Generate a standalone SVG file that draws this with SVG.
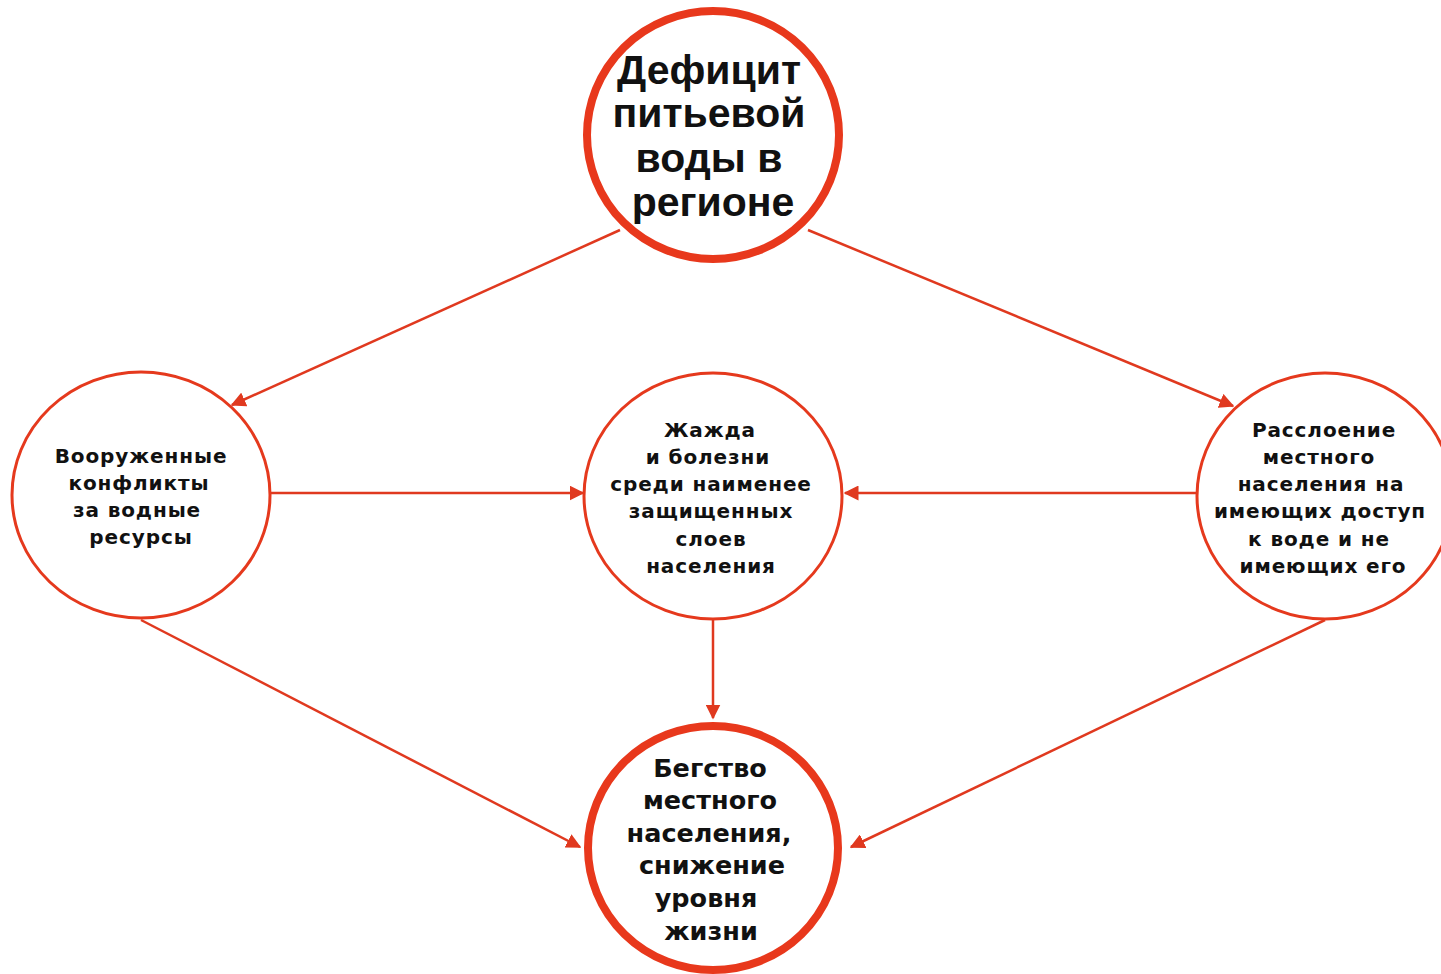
<svg xmlns="http://www.w3.org/2000/svg" width="1441" height="974" viewBox="0 0 1441 974">
<style>
.thick{fill:#fff;stroke:#e8381c;stroke-width:8}
.thin{fill:#fff;stroke:#e5391d;stroke-width:3}
.big{font-family:"Liberation Sans",Arial,sans-serif;font-weight:bold;font-size:41px;fill:#111;text-anchor:middle}
.sm{font-family:"DejaVu Sans",Verdana,sans-serif;font-weight:bold;font-size:20px;letter-spacing:0.9px;fill:#111;text-anchor:middle}
.md{font-family:"DejaVu Sans",Verdana,sans-serif;font-weight:bold;font-size:25.5px;fill:#111;text-anchor:middle}
.con line{stroke:#e0391f;stroke-width:2.5;fill:none}
</style>
<defs>
<marker id="ah" viewBox="0 0 10 10" refX="9" refY="5" markerWidth="6" markerHeight="6" markerUnits="strokeWidth" orient="auto">
<path d="M0,0 L10,5 L0,10 z" fill="#e0391f"/>
</marker>
</defs>
<rect width="1441" height="974" fill="#fff"/>
<g class="con">
<line x1="620" y1="230" x2="232" y2="405" marker-end="url(#ah)"/>
<line x1="808" y1="230" x2="1233" y2="406" marker-end="url(#ah)"/>
<line x1="270" y1="493" x2="583" y2="493" marker-end="url(#ah)"/>
<line x1="1197" y1="493" x2="845" y2="493" marker-end="url(#ah)"/>
<line x1="713" y1="620" x2="713" y2="718" marker-end="url(#ah)"/>
<line x1="141" y1="620" x2="580" y2="847" marker-end="url(#ah)"/>
<line x1="1325" y1="620" x2="851" y2="847" marker-end="url(#ah)"/>
</g>
<g id="top">
<ellipse class="thick" cx="713" cy="135" rx="126" ry="124"/>
<text class="big" x="709" y="84">Дефицит</text>
<text class="big" x="709" y="127">питьевой</text>
<text class="big" x="709" y="172">воды в</text>
<text class="big" x="713" y="216">регионе</text>
</g>
<g id="left">
<ellipse class="thin" cx="141" cy="495" rx="129" ry="123"/>
<text class="sm" x="141" y="463">Вооруженные</text>
<text class="sm" x="139" y="490">конфликты</text>
<text class="sm" x="137" y="517">за водные</text>
<text class="sm" x="141" y="544">ресурсы</text>
</g>
<g id="middle">
<ellipse class="thin" cx="713" cy="496" rx="129" ry="123"/>
<text class="sm" x="710" y="437">Жажда</text>
<text class="sm" x="708" y="464">и болезни</text>
<text class="sm" x="711" y="491">среди наименее</text>
<text class="sm" x="711" y="518">защищенных</text>
<text class="sm" x="711" y="546">слоев</text>
<text class="sm" x="711" y="573">населения</text>
</g>
<g id="right">
<ellipse class="thin" cx="1325" cy="496" rx="128" ry="123"/>
<text class="sm" x="1324" y="437">Расслоение</text>
<text class="sm" x="1319" y="464">местного</text>
<text class="sm" x="1321" y="491">населения на</text>
<text class="sm" x="1320" y="518">имеющих доступ</text>
<text class="sm" x="1319" y="546">к воде и не</text>
<text class="sm" x="1323" y="573">имеющих его</text>
</g>
<g id="bottom">
<ellipse class="thick" cx="713" cy="848" rx="125" ry="122"/>
<text class="md" x="710" y="777">Бегство</text>
<text class="md" x="710" y="809">местного</text>
<text class="md" x="709" y="842">населения,</text>
<text class="md" x="712" y="874">снижение</text>
<text class="md" x="706" y="907">уровня</text>
<text class="md" x="711" y="940">жизни</text>
</g>
</svg>
